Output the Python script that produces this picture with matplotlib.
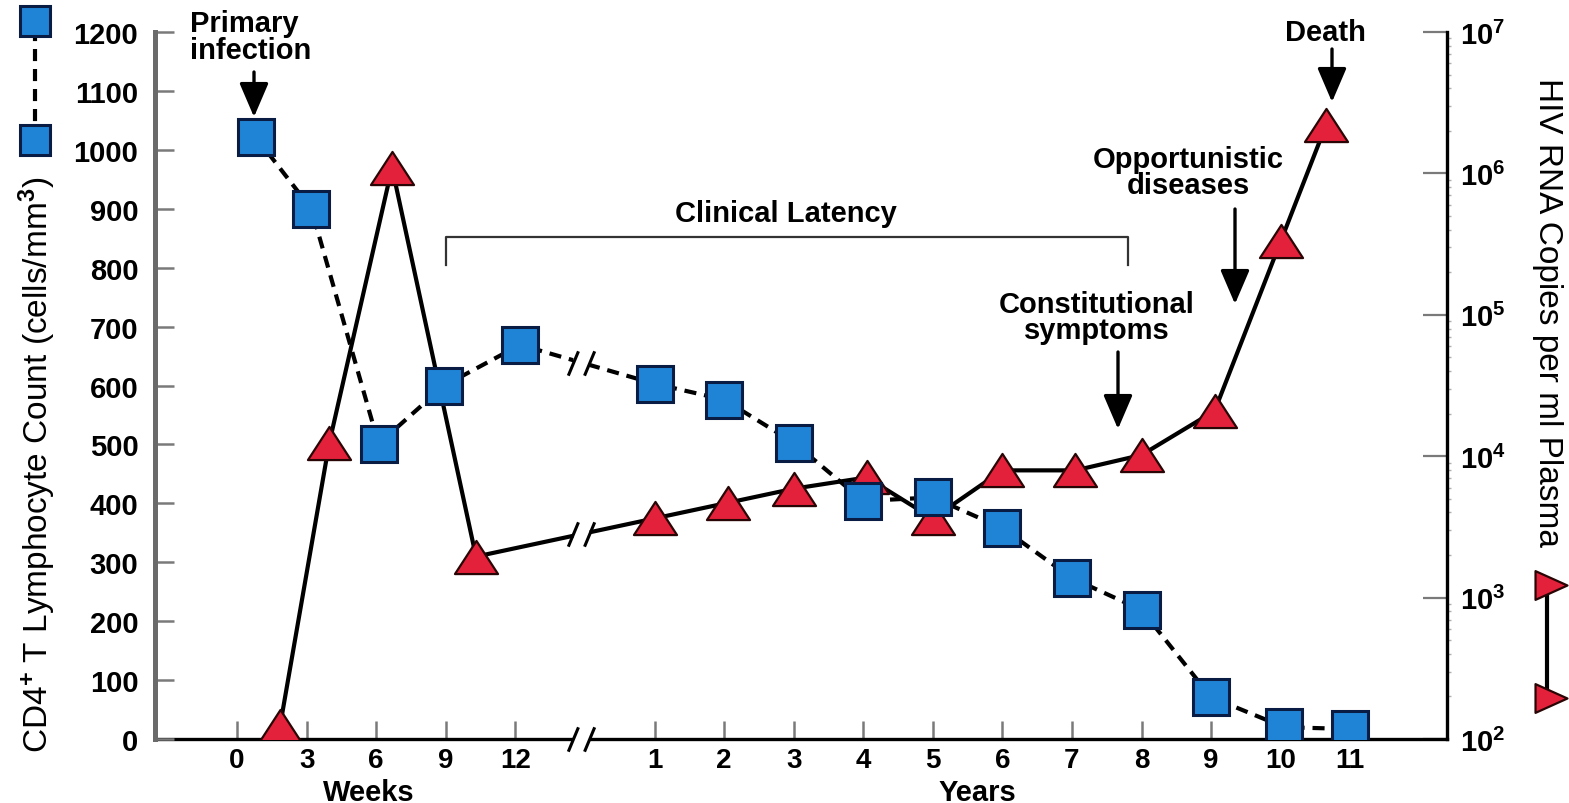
import numpy as np
import matplotlib
matplotlib.use("Agg")
import matplotlib.pyplot as plt
from matplotlib.path import Path
from matplotlib.lines import Line2D
from matplotlib.patches import FancyArrowPatch
import matplotlib.transforms as mtransforms

# ---------------- data ----------------
week_ticks = [0, 3, 6, 9, 12]
year_ticks = [1, 2, 3, 4, 5, 6, 7, 8, 9, 10, 11]

cd4_weeks = [0.8, 3.2, 6.1, 8.9, 12.2]
cd4_week_vals = [1022, 900, 501, 599, 669]
cd4_years = [1, 2, 3, 4, 5, 6, 7, 8, 9, 10.05, 11]
cd4_year_vals = [603, 576, 503, 404, 410, 358, 273, 219, 71, 20, 17]

hiv_weeks = [1.85, 3.97, 6.68, 10.3]
hiv_week_vals = [123, 12300, 1100000, 1950]
hiv_years = [1.0, 2.05, 3.0, 4.05, 5.0, 6.0, 7.05, 8.0, 9.05, 10.0, 10.65]
hiv_year_vals = [3630, 4680, 5890, 7080, 3630, 7940, 7940, 10200, 20900, 331000, 2190000]

hiv_ticks = [1e2, 1e3, 1e4, 1e5, 1e6, 1e7]
hiv_tick_labels = [r"$\mathbf{10^{2}}$", r"$\mathbf{10^{3}}$", r"$\mathbf{10^{4}}$",
                   r"$\mathbf{10^{5}}$", r"$\mathbf{10^{6}}$", r"$\mathbf{10^{7}}$"]
cd4_ticks = list(range(0, 1201, 100))

# ---------------- helpers ----------------
BREAK_POS = 4.95


def wpos(weeks):
    return np.asarray(weeks, float) / 3.0


def ypos(years):
    return np.asarray(years, float) + 5.0


plt.rcParams['font.family'] = ['Liberation Sans', 'DejaVu Sans']
plt.rcParams['font.weight'] = 'bold'
plt.rcParams['mathtext.fontset'] = 'custom'
plt.rcParams['mathtext.rm'] = 'Liberation Sans'
plt.rcParams['mathtext.bf'] = 'Liberation Sans:bold'
plt.rcParams['mathtext.default'] = 'rm'

W, H = 1569, 804
fig = plt.figure(figsize=(W / 100, H / 100), dpi=100)
rect = [155 / W, 1 - 740 / H, (1447 - 155) / W, (740 - 33) / H]

ax_h = fig.add_axes(rect)
ax_h.set_yscale('log')
ax_h.set_ylim(1e2, 1e7)
ax_c = ax_h.twinx()
ax_c.set_ylim(0, 1200)
ax_h.set_xlim(-1.18, 17.39)

ax_h.yaxis.tick_right()
ax_c.yaxis.tick_left()

GRAY = '#7a7a7a'
# spines
for s in ['left', 'top']:
    ax_h.spines[s].set_visible(False)
ax_h.spines['right'].set_linewidth(2.4)
ax_h.spines['bottom'].set_linewidth(2.4)
for s in ['right', 'top', 'bottom']:
    ax_c.spines[s].set_visible(False)
ax_c.spines['left'].set_linewidth(3.6)
ax_c.spines['left'].set_color('#6a6a6a')

# x ticks
xt = list(wpos(week_ticks)) + list(ypos(year_ticks))
xl = [str(w) for w in week_ticks] + [str(y) for y in year_ticks]
ax_h.set_xticks(xt)
ax_h.set_xticklabels(xl)
ax_h.tick_params(axis='x', direction='in', length=13, width=1.8, color=GRAY,
                 pad=6, labelsize=20)

# right log ticks
ax_h.set_yticks(hiv_ticks)
ax_h.set_yticklabels(hiv_tick_labels)
ax_h.tick_params(axis='y', which='major', direction='in', length=17, width=1.6,
                 color=GRAY, pad=9, labelsize=21)
ax_h.yaxis.set_minor_locator(matplotlib.ticker.LogLocator(base=10, subs=np.arange(2, 10)))
ax_h.yaxis.set_minor_formatter(matplotlib.ticker.NullFormatter())
ax_h.tick_params(axis='y', which='minor', direction='out', length=3, width=1,
                 color='#b0b0b0')

# left ticks
ax_c.set_yticks(cd4_ticks)
ax_c.set_yticklabels([str(v) for v in cd4_ticks])
ax_c.tick_params(axis='y', direction='in', length=14, width=1.8, color=GRAY,
                 pad=12, labelsize=21)

# ---------------- series ----------------
tri = Path([(-1.3, -1.0), (1.3, -1.0), (0.0, 1.0), (-1.3, -1.0)],
           [Path.MOVETO, Path.LINETO, Path.LINETO, Path.CLOSEPOLY])

hx = np.concatenate([wpos(hiv_weeks), ypos(hiv_years)])
hy = np.array(hiv_week_vals + hiv_year_vals, float)
cx = np.concatenate([wpos(cd4_weeks), ypos(cd4_years)])
cy = np.array(cd4_week_vals + cd4_year_vals, float)

ax_h.plot(hx, hy, color='black', lw=3.0, zorder=2, solid_capstyle='butt')
ax_h.plot(hx, hy, linestyle='none', marker=tri, ms=31, mfc='#e4213a',
          mec='#2a0505', mew=1.6, zorder=3)

ax_c.plot(cx, cy, color='black', lw=3.0, dashes=(2.9, 1.9), zorder=2)
ax_c.plot(cx, cy, linestyle='none', marker='s', ms=26, mfc='#1f84d6',
          mec='#081c44', mew=2.2, zorder=3)

# break marks
slash = Path([(-13, -12), (-3, 12), (3, -12), (13, 12)],
             [Path.MOVETO, Path.LINETO, Path.MOVETO, Path.LINETO])
gap = Path([(-7, -9), (7, -9), (7, 9), (-7, 9), (-7, -9)],
           [Path.MOVETO, Path.LINETO, Path.LINETO, Path.LINETO, Path.CLOSEPOLY])

hb = 10 ** np.interp(BREAK_POS, hx, np.log10(hy))
cb = np.interp(BREAK_POS, cx, cy)
for a, yb in [(ax_h, hb), (ax_c, cb)]:
    a.plot([BREAK_POS], [yb], marker=gap, ms=14, mfc='white', mec='none',
           linestyle='none', zorder=4)
    a.plot([BREAK_POS], [yb], marker=slash, ms=19, mfc='none', mec='black',
           mew=2.2, linestyle='none', zorder=5)

btrans = mtransforms.blended_transform_factory(ax_h.transData, ax_h.transAxes)
ax_h.plot([BREAK_POS], [0], transform=btrans, marker=gap, ms=14, mfc='white',
          mec='none', linestyle='none', clip_on=False, zorder=6)
ax_h.plot([BREAK_POS], [0], transform=btrans, marker=slash, ms=19, mfc='none',
          mec='black', mew=2.2, linestyle='none', clip_on=False, zorder=7)

# Clinical latency bracket (week 9 -> ~year 7.8)
bx0, bx1 = wpos([9])[0], ypos([7.8])[0]
yb_top, yb_bot = 1 - (238 - 33) / 707, 1 - (266 - 33) / 707
ax_h.plot([bx0, bx0, bx1, bx1], [yb_bot, yb_top, yb_top, yb_bot],
          transform=btrans, color='#333333', lw=1.6, zorder=1)

# ---------------- overlay (figure pixel space) ----------------
ov = fig.add_axes([0, 0, 1, 1], facecolor='none')
ov.set_xlim(0, W)
ov.set_ylim(H, 0)
ov.axis('off')

# legend keys
ov.add_line(Line2D([35, 35], [30, 132], color='black', lw=3.0, dashes=(2.9, 1.9)))
ov.add_line(Line2D([35], [22], marker='s', ms=21, mfc='#1f84d6', mec='#081c44', mew=2.2))
ov.add_line(Line2D([35], [141], marker='s', ms=21, mfc='#1f84d6', mec='#081c44', mew=2.2))
rtri = Path([(-1.0, -0.9), (1.0, 0.0), (-1.0, 0.9), (-1.0, -0.9)],
            [Path.MOVETO, Path.LINETO, Path.LINETO, Path.CLOSEPOLY])
ov.add_line(Line2D([1547, 1547], [590, 700], color='black', lw=3.0))
ov.add_line(Line2D([1551], [586], marker=rtri, ms=23, mfc='#e4213a', mec='#2a0505', mew=1.6))
ov.add_line(Line2D([1551], [699], marker=rtri, ms=23, mfc='#e4213a', mec='#2a0505', mew=1.6))

# axis titles
ov.text(37, 465, 'CD4$^{+}$ T Lymphocyte Count (cells/mm$^{3}$)', rotation=90,
        ha='center', va='center', fontsize=24, fontweight='normal')
ov.text(1548, 312, 'HIV RNA Copies per ml Plasma', rotation=-90,
        ha='center', va='center', fontsize=24, fontweight='normal')
ov.text(369, 793, 'Weeks', ha='center', va='center', fontsize=21, fontweight='bold')
ov.text(977, 793, 'Years', ha='center', va='center', fontsize=21, fontweight='bold')

# annotations
ov.text(190, 10, 'Primary\ninfection', ha='left', va='top', fontsize=21,
        fontweight='bold', linespacing=0.95)
ov.text(786, 214, 'Clinical Latency', ha='center', va='center', fontsize=21,
        fontweight='bold')
ov.text(1097, 318, 'Constitutional\nsymptoms', ha='center', va='center',
        fontsize=21, fontweight='bold', linespacing=0.92)
ov.text(1188, 173, 'Opportunistic\ndiseases', ha='center', va='center',
        fontsize=21, fontweight='bold', linespacing=0.92)
ov.text(1325, 33, 'Death', ha='center', va='center', fontsize=21, fontweight='bold')


def arrow(x, y0, y1):
    ov.add_patch(FancyArrowPatch((x, y0), (x, y1),
                                 arrowstyle='-|>,head_length=0.7,head_width=0.3',
                                 mutation_scale=30, lw=2.4, color='black',
                                 shrinkA=0, shrinkB=0))


arrow(254, 73, 118)
arrow(1332, 50, 103)
arrow(1235, 210, 305)
arrow(1118, 353, 430)

fig.savefig('out.png', dpi=100)
